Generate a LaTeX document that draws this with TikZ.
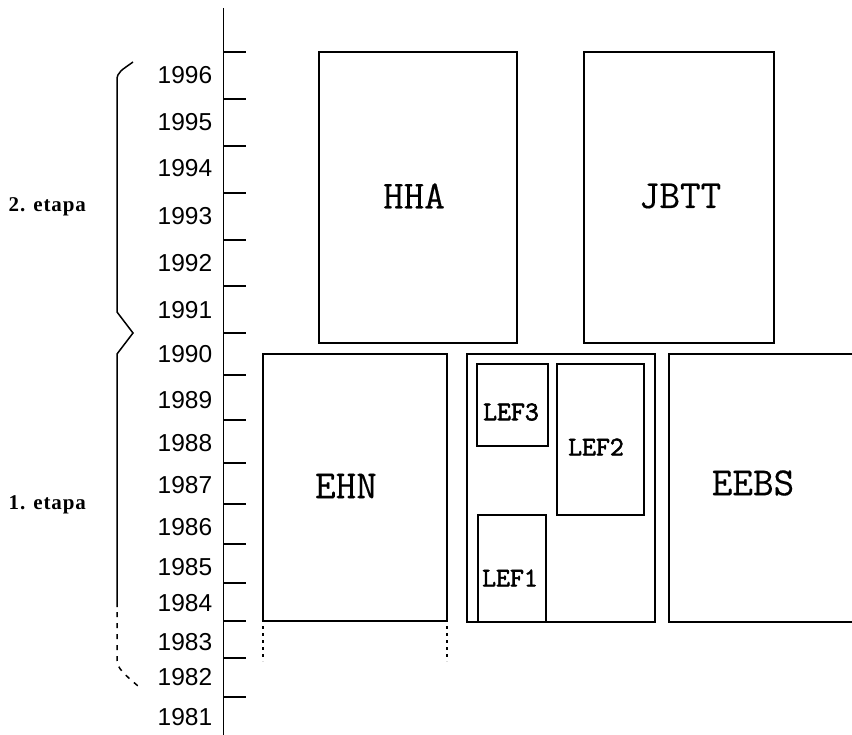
\documentclass[tikz,border=0pt]{standalone}
\usepackage{fontspec}
\setmainfont{Liberation Sans}
\newfontfamily\yearfont{Liberation Sans}
\newfontfamily\boxfont[FakeBold=0.3]{Latin Modern Mono}
\newfontfamily\boxboldfont[FakeBold=2.2]{Latin Modern Mono}
\newfontfamily\etapafont[LetterSpace=4]{Liberation Serif}
\begin{document}
\begin{tikzpicture}[x=1pt,y=-1pt,line width=1.5pt,
  box/.style={draw,line width=1.5pt,inner sep=0pt,outer sep=0pt},
  year/.style={anchor=east,font=\yearfont\fontsize{24.5}{24.5}\selectfont,inner sep=0pt},
  lbl/.style={font=\boxfont\fontsize{40}{40}\selectfont,inner sep=0pt},
  slbl/.style={font=\boxboldfont\fontsize{27}{27}\selectfont,inner sep=0pt},
  etapa/.style={font=\etapafont\bfseries\fontsize{21}{21}\selectfont,anchor=west,inner sep=0pt},
  tick/.style={line width=1.5pt},
  dotline/.style={line width=1.5pt,dash pattern=on 3pt off 4pt}]
\useasboundingbox (0,0) rectangle (852,735);

% axis
\coordinate (atop) at (223.5,8);
\coordinate (abot) at (223.5,737);
\draw (atop) -- (abot);
\foreach \y in {52,99,146,193,240,286,333,375,420,463,504,544,583,621,658,697}
  \draw[tick] (223.5,\y) -- (246,\y);

% years
\foreach \yr/\y in {1996/75,1995/122,1994/168,1993/216,1992/263,1991/310,1990/354,
  1989/400,1988/443,1987/485,1986/527,1985/567,1984/603,1983/642,1982/677,1981/717}
  \node[year] (y\yr) at (213,\y) {\yr};

% braces
\draw (133,62) .. controls (122,70) and (117,72) .. (117,80) -- (117,312) -- (133,333)
      -- (117,354) -- (117,607);
\draw[dash pattern=on 5pt off 6pt] (117,612) -- (117,660) .. controls (117,668) and (124,674) .. (138,686);

% etapa labels
\node[etapa] (e2) at (8,207) {2. etapa};
\node[etapa] (e1) at (8,505) {1. etapa};

% top boxes
\node[box,minimum width=198pt,minimum height=291pt] (HHA) at (418,197.5) {};
\node[lbl] (HHAt) at (414,196) {HHA};
\node[box,minimum width=190pt,minimum height=291pt] (JBTT) at (679,197.5) {};
\node[lbl] (JBTTt) at (680,196) {JBTT};

% EHN
\node[box,minimum width=184pt,minimum height=267pt] (EHN) at (355,487.5) {};
\node[lbl] (EHNt) at (346,486) {EHN};
\draw[dotline] (EHN.south west) ++(0,5) -- ++(0,35);
\draw[dotline] (EHN.south east) ++(0,5) -- ++(0,35);

% LEF group
\node[box,minimum width=188pt,minimum height=268pt] (LEF) at (561,488) {};
\node[box,minimum width=71pt,minimum height=82pt] (LEF3) at (512.5,405) {};
\node[slbl] (LEF3t) at (511,412) {LEF3};
\node[box,minimum width=87pt,minimum height=151pt] (LEF2) at (600.5,439.5) {};
\node[slbl] (LEF2t) at (596,447) {LEF2};
\node[box,minimum width=68pt,minimum height=107pt] (LEF1) at (512,568.5) {};
\node[slbl] (LEF1t) at (510,578) {LEF1};

% EEBS (runs off the right edge)
\node[box,minimum width=220pt,minimum height=268pt] (EEBS) at (779,488) {};
\node[lbl] (EEBSt) at (753,483) {EEBS};
\end{tikzpicture}
\end{document}
